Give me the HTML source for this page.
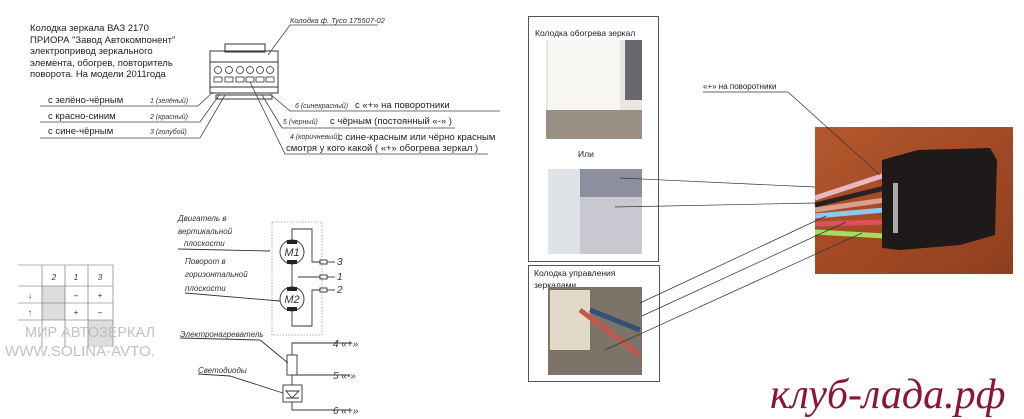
<!DOCTYPE html>
<html><head><meta charset="utf-8"><style>
html,body{margin:0;padding:0;background:#fff;width:1024px;height:419px;overflow:hidden}
svg{display:block}
.t{font-family:"Liberation Sans","Noto Sans CJK SC",sans-serif;fill:#222}
.i{font-family:"Liberation Sans","Noto Sans CJK SC",sans-serif;font-style:italic;fill:#333}
</style></head><body>
<svg width="1024" height="419" viewBox="0 0 1024 419" xmlns="http://www.w3.org/2000/svg">
<defs>
<linearGradient id="wood" x1="0" y1="0" x2="1" y2="1"><stop offset="0" stop-color="#b4582e"/><stop offset=".5" stop-color="#a34a24"/><stop offset="1" stop-color="#8e3f1f"/></linearGradient>
</defs>
<g class="t" font-size="9.5" fill="#555">
<text x="30" y="31">Колодка зеркала ВАЗ 2170</text>
<text x="30" y="43">ПРИОРА "Завод Автокомпонент"</text>
<text x="30" y="54">электропривод зеркального</text>
<text x="30" y="66">элемента, обогрев, повторитель</text>
<text x="30" y="77">поворота. На модели 2011года</text>
</g>
<g fill="none" stroke="#333" stroke-width="1">
<rect x="225" y="44" width="40" height="8"/>
<rect x="210" y="51" width="68" height="42"/>
<rect x="216" y="95" width="56" height="4"/>
<line x1="210" y1="62" x2="278" y2="62"/>
<line x1="210" y1="87" x2="278" y2="87"/>
</g>
<g fill="none" stroke="#333" stroke-width="0.8">
<circle cx="218" cy="70" r="3.5"/><circle cx="229" cy="70" r="3.5"/><circle cx="240" cy="70" r="3.5"/><circle cx="250" cy="70" r="3.5"/><circle cx="260" cy="70" r="3.5"/><circle cx="270" cy="70" r="3.5"/>
<rect x="214" y="77" width="8" height="5"/><rect x="225" y="77" width="8" height="5"/><rect x="236" y="77" width="8" height="5"/><rect x="246" y="77" width="8" height="5"/><rect x="256" y="77" width="8" height="5"/><rect x="266" y="77" width="8" height="5"/>
</g>
<text class="i" x="290" y="23" font-size="7.5">Колодка ф. Tyco 175507-02</text>
<g stroke="#444" stroke-width="0.8" fill="none">
<polyline points="378,25 290,25 268,55"/>
<polyline points="40,106 198,106 213,92"/>
<polyline points="40,122 200,122 220,94"/>
<polyline points="40,138 200,138 225,95"/>
<polyline points="500,111 290,111 270,94"/>
<polyline points="455,128 282,128 262,95"/>
<polyline points="488,154 285,154 250,82"/>
</g>
<g class="t" font-size="9.5">
<text x="48" y="103">с зелёно-чёрным</text>
<text x="48" y="119">с красно-синим</text>
<text x="48" y="134">с сине-чёрным</text>
<text x="355" y="108">с «+» на поворотники</text>
<text x="330" y="124">с чёрным (постоянный «-»  )</text>
<text x="338" y="140">с сине-красным или чёрно красным</text>
<text x="286" y="151">смотря у кого какой ( «+» обогрева зеркал )</text>
</g>
<g class="i" font-size="7">
<text x="150" y="103">1 (зелёный)</text>
<text x="150" y="119">2 (красный)</text>
<text x="150" y="134">3 (голубой)</text>
<text x="295" y="108">6 (синекрасный)</text>
<text x="283" y="124">5 (черный)</text>
<text x="290" y="139">4 (коричневый)</text>
</g>
<g stroke="#666" stroke-width="0.6" fill="none">
<rect x="42" y="286" width="23" height="34" fill="#ddd" stroke="none"/>
<rect x="88" y="320" width="25" height="27" fill="#ddd" stroke="none"/>
<line x1="18" y1="265" x2="113" y2="265"/><line x1="18" y1="286" x2="113" y2="286"/><line x1="18" y1="303" x2="113" y2="303"/><line x1="18" y1="320" x2="113" y2="320"/>
<line x1="42" y1="265" x2="42" y2="347"/><line x1="65" y1="265" x2="65" y2="347"/><line x1="88" y1="265" x2="88" y2="347"/><line x1="113" y1="265" x2="113" y2="347"/>
</g>
<g class="i" font-size="8" text-anchor="middle">
<text x="54" y="280">2</text><text x="76" y="280">1</text><text x="100" y="280">3</text>
<text x="30" y="298">↓</text><text x="76" y="298">–</text><text x="100" y="298">+</text>
<text x="30" y="315">↑</text><text x="76" y="315">+</text><text x="100" y="315">–</text>
</g>
<g font-family="Liberation Sans,sans-serif" font-size="14.5" fill="#bbb" opacity="0.9">
<text x="25" y="337" textLength="130" lengthAdjust="spacingAndGlyphs">МИР АВТОЗЕРКАЛ</text>
<text x="5" y="356" textLength="150" lengthAdjust="spacingAndGlyphs">WWW.SOLINA-AVTO.</text>
</g>
<rect x="272" y="222" width="50" height="113" fill="none" stroke="#999" stroke-width="0.8" stroke-dasharray="1.5,1.5"/>
<g stroke="#333" stroke-width="0.9" fill="none">
<polyline points="292,240 292,229 312,229 312,262 320,262"/>
<line x1="292" y1="264" x2="292" y2="287"/>
<line x1="298" y1="277" x2="320" y2="277"/>
<polyline points="292,311 292,326 312,326 312,290 320,290"/>
<circle cx="292" cy="252" r="12" fill="#fff"/>
<circle cx="292" cy="299" r="12" fill="#fff"/>
<rect x="320" y="260" width="7" height="4"/><rect x="320" y="275" width="7" height="4"/><rect x="320" y="288" width="7" height="4"/>
<polyline points="178,249 270,251"/><polyline points="185,293 280,301"/>
<line x1="327" y1="262" x2="335" y2="262"/><line x1="327" y1="277" x2="335" y2="277"/><line x1="327" y1="290" x2="335" y2="290"/>
<polyline points="352,343 292,343 292,355"/>
<rect x="287" y="355" width="10" height="20"/>
<polyline points="292,375 350,375"/>
<line x1="292" y1="375" x2="292" y2="385"/>
<rect x="283" y="385" width="19" height="17"/>
<polyline points="292,402 292,410 350,410"/>
<polyline points="180,338 260,340 288,363"/>
<polyline points="198,374 230,376 283,393"/>
<path d="M286,391 L299,391 L292,398 Z M286,398 L299,398"/>
</g>
<rect x="287" y="240" width="10" height="4" fill="#222"/><rect x="287" y="260" width="10" height="4" fill="#222"/>
<rect x="287" y="287" width="10" height="4" fill="#222"/><rect x="287" y="307" width="10" height="4" fill="#222"/>
<g class="i" font-size="11" text-anchor="middle"><text x="292" y="256">M1</text><text x="292" y="303">M2</text></g>
<g class="i" font-size="8">
<text x="178" y="221">Двигатель в</text><text x="178" y="234">вертикальной</text><text x="184" y="246">плоскости</text>
<text x="185" y="264">Поворот в</text><text x="185" y="277">горизонтальной</text><text x="185" y="291">плоскости</text>
<text x="180" y="337">Электронагреватель</text><text x="198" y="373">Светодиоды</text>
</g>
<g class="i" font-size="10"><text x="337" y="265">3</text><text x="337" y="280">1</text><text x="337" y="293">2</text>
<text x="333" y="347">4 «+»</text><text x="333" y="379">5 «-»</text><text x="333" y="414">6 «+»</text></g>
<rect x="528.5" y="16.5" width="130" height="245" fill="none" stroke="#555"/>
<rect x="528.5" y="265.5" width="131" height="116" fill="none" stroke="#555"/>
<text class="t" x="535" y="36" font-size="8.5">Колодка обогрева зеркал</text>
<text class="t" x="578" y="157" font-size="8.5">Или</text>
<text class="t" x="534" y="276" font-size="8.5">Колодка управления</text>
<text class="t" x="534" y="288" font-size="8.5">зеркалами</text>
<rect x="546" y="40" width="96" height="99" fill="#e9e5df"/>
<rect x="548" y="40" width="72" height="70" fill="#f7f6f2"/>
<rect x="625" y="40" width="17" height="60" fill="#6a6670"/>
<rect x="546" y="110" width="96" height="29" fill="#9a8f85"/>
<rect x="548" y="169" width="94" height="85" fill="#c9c7cf"/>
<rect x="548" y="169" width="32" height="85" fill="#dfe2e6"/>
<rect x="580" y="169" width="62" height="28" fill="#8b8f9e"/>
<rect x="548" y="287" width="94" height="88" fill="#7d7469"/>
<rect x="550" y="290" width="40" height="60" fill="#e2dac9"/>
<line x1="580" y1="310" x2="640" y2="355" stroke="#c2574e" stroke-width="5"/>
<line x1="590" y1="310" x2="640" y2="330" stroke="#33507a" stroke-width="5"/>
<rect x="815" y="127" width="198" height="147" fill="url(#wood)"/>
<g stroke-width="5" fill="none">
<line x1="815" y1="198" x2="885" y2="175" stroke="#e8b8c0"/>
<line x1="815" y1="205" x2="885" y2="188" stroke="#2a2222"/>
<line x1="815" y1="210" x2="885" y2="200" stroke="#d9a08c"/>
<line x1="815" y1="216" x2="885" y2="210" stroke="#8fc8ef"/>
<line x1="815" y1="224" x2="885" y2="222" stroke="#e0505a"/>
<line x1="815" y1="232" x2="885" y2="236" stroke="#9ee060"/>
</g>
<path d="M882,160 L918,150 L990,148 L997,160 L995,235 L960,245 L900,250 L882,248 Z" fill="#1e1a1a"/>
<rect x="893" y="183" width="5" height="50" fill="#aaa"/>
<g stroke="#333" stroke-width="0.7" fill="none">
<polyline points="703,92 788,92 880,175"/>
<line x1="620" y1="178" x2="815" y2="187"/>
<line x1="615" y1="207" x2="815" y2="203"/>
<line x1="640" y1="303" x2="826" y2="216"/>
<line x1="642" y1="316" x2="846" y2="222"/>
<line x1="605" y1="350" x2="862" y2="233"/>
</g>
<text class="t" x="703" y="89" font-size="8">«+» на поворотники</text>
<text x="770" y="408" font-family="Liberation Serif,serif" font-style="italic" font-size="42" fill="#8a1535">клуб-лада.рф</text>
</svg>
</body></html>
